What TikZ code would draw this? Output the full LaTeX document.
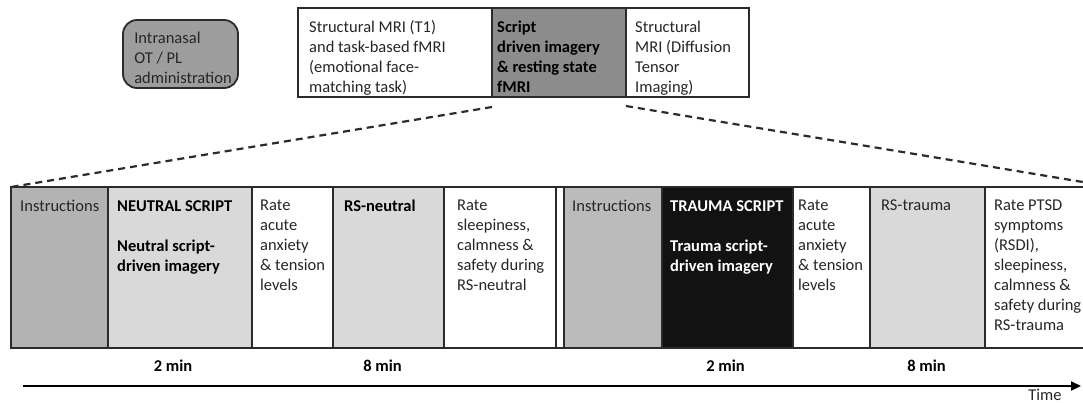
\documentclass[tikz,border=0pt]{standalone}
\usepackage{fontspec}
\setmainfont{Carlito}
\usepackage{xcolor}
\usetikzlibrary{shapes,arrows.meta,positioning}

\definecolor{edge}{HTML}{2B2B2B}
\definecolor{ink}{HTML}{262626}
\definecolor{instA}{HTML}{B3B3B3}
\definecolor{instB}{HTML}{BBBBBB}
\definecolor{pale}{HTML}{D9D9D9}
\definecolor{mid}{HTML}{8C8C8C}

\begin{document}
\begin{tikzpicture}[x=1pt, y=-1pt, node distance=0pt,
    every node/.style={font=\fontsize{16.5}{20}\selectfont}]
    \tikzstyle{seg} = [rectangle, draw=edge, line width=1.8pt, minimum height=161pt,
        inner sep=0pt, outer sep=0pt]
    \tikzstyle{cell} = [rectangle, draw=edge, line width=1.8pt, minimum height=89pt,
        inner sep=0pt, outer sep=0pt]
    \tikzstyle{txt} = [inner sep=0pt, align=left, text=ink]
    \tikzstyle{dur} = [inner sep=0pt, font=\fontsize{16.5}{20}\selectfont\bfseries, text=black]
    \tikzstyle{dashline} = [dashed, dash pattern=on 7pt off 5pt, line width=2.2pt, draw=edge]

    \useasboundingbox (0,0) rectangle (1083,402);
    \clip (0,0) rectangle (1083,402);

    % administration
    \node (admin) [rectangle, rounded corners=14pt, draw=edge, line width=1.8pt, fill=mid!85,
        minimum width=115pt, minimum height=68pt] at (180.5,54) {};
    \node [txt, text=black!85, below right=13pt and 12pt of admin.north west]
        {Intranasal\\OT / PL\\administration};

    % scanning session
    \node (struct) [cell, fill=white, minimum width=194pt, anchor=north west] at (298,8) {};
    \node (script) [cell, fill=mid, minimum width=134pt, right=of struct] {};
    \node (dti) [cell, fill=white, minimum width=123pt, right=of script] {};
    \node [txt, below right=12.5pt and 11pt of struct.north west]
        {Structural MRI (T1)\\and task-based fMRI\\(emotional face-\\matching task)};
    \node [txt, text=black, font=\fontsize{16.5}{20}\selectfont\bfseries,
        below right=12.5pt and 5pt of script.north west]
        {Script\\driven imagery\\\& resting state\\fMRI};
    \node [txt, below right=12.5pt and 9pt of dti.north west]
        {Structural\\MRI (Diffusion\\Tensor\\Imaging)};

    % script-driven imagery run
    \node (inst1) [seg, fill=instA, minimum width=97pt, anchor=north west] at (11,187) {};
    \node (neut) [seg, fill=pale, minimum width=144pt, right=of inst1] {};
    \node (rate1) [seg, fill=white, minimum width=81pt, right=of neut] {};
    \node (rsn) [seg, fill=pale, minimum width=111pt, right=of rate1] {};
    \node (rate2) [seg, fill=white, minimum width=112pt, right=of rsn] {};
    \node (pause) [seg, fill=white, minimum width=8pt, right=of rate2] {};
    \node (inst2) [seg, fill=instB, minimum width=98pt, right=of pause] {};
    \node (trauma) [seg, fill=black!93, minimum width=131pt, right=of inst2] {};
    \node (rate3) [seg, fill=white, minimum width=77pt, right=of trauma] {};
    \node (rst) [seg, fill=pale, minimum width=115pt, right=of rate3] {};
    \node (rate4) [seg, fill=white, minimum width=128pt, right=of rst] {};

    \node [txt, below right=13pt and 9pt of inst1.north west] {Instructions};
    \node [txt, text=black, font=\fontsize{16.5}{20}\selectfont\bfseries,
        below right=13pt and 9pt of neut.north west]
        {NEUTRAL SCRIPT\\[20pt]Neutral script-\\driven imagery};
    \node [txt, below right=13pt and 8pt of rate1.north west]
        {Rate\\acute\\anxiety\\\& tension\\levels};
    \node [txt, text=black, font=\fontsize{16.5}{20}\selectfont\bfseries,
        below right=13pt and 11pt of rsn.north west] {RS-neutral};
    \node [txt, below right=13pt and 13pt of rate2.north west]
        {Rate\\sleepiness,\\calmness \&\\safety during\\RS-neutral};
    \node [txt, below right=13pt and 8pt of inst2.north west] {Instructions};
    \node [txt, text=white, font=\fontsize{16.5}{20}\selectfont\bfseries,
        below right=13pt and 8pt of trauma.north west]
        {TRAUMA SCRIPT\\[20pt]Trauma script-\\driven imagery};
    \node [txt, below right=13pt and 5pt of rate3.north west]
        {Rate\\acute\\anxiety\\\& tension\\levels};
    \node [txt, below right=13pt and 11pt of rst.north west] {RS-trauma};
    \node [txt, below right=13pt and 9pt of rate4.north west]
        {Rate PTSD\\symptoms\\(RSDI),\\sleepiness,\\calmness \&\\safety during\\RS-trauma};

    % zoom lines
    \draw [dashline] ([yshift=-10pt]script.south west) -- (inst1.north west);
    \draw [dashline] ([yshift=-9pt]script.south east) -- (rate4.north east);

    % durations
    \node (d1) [dur, below=12pt of neut, xshift=-7pt] {2 min};
    \node (d2) [dur, below=12pt of rsn, xshift=-6pt] {8 min};
    \node (d3) [dur, below=12pt of trauma, xshift=-2pt] {2 min};
    \node (d4) [dur, below=12pt of rst, xshift=-1pt] {8 min};

    % time axis
    \coordinate (t0) at (23,386);
    \coordinate (t1) at (1081,386);
    \draw [-{Triangle[length=10pt,width=9pt]}, line width=2.2pt, draw=black] (t0) -- (t1);
    \node (time) [inner sep=0pt, text=ink, anchor=base] at (1045,400) {Time};
\end{tikzpicture}
\end{document}
